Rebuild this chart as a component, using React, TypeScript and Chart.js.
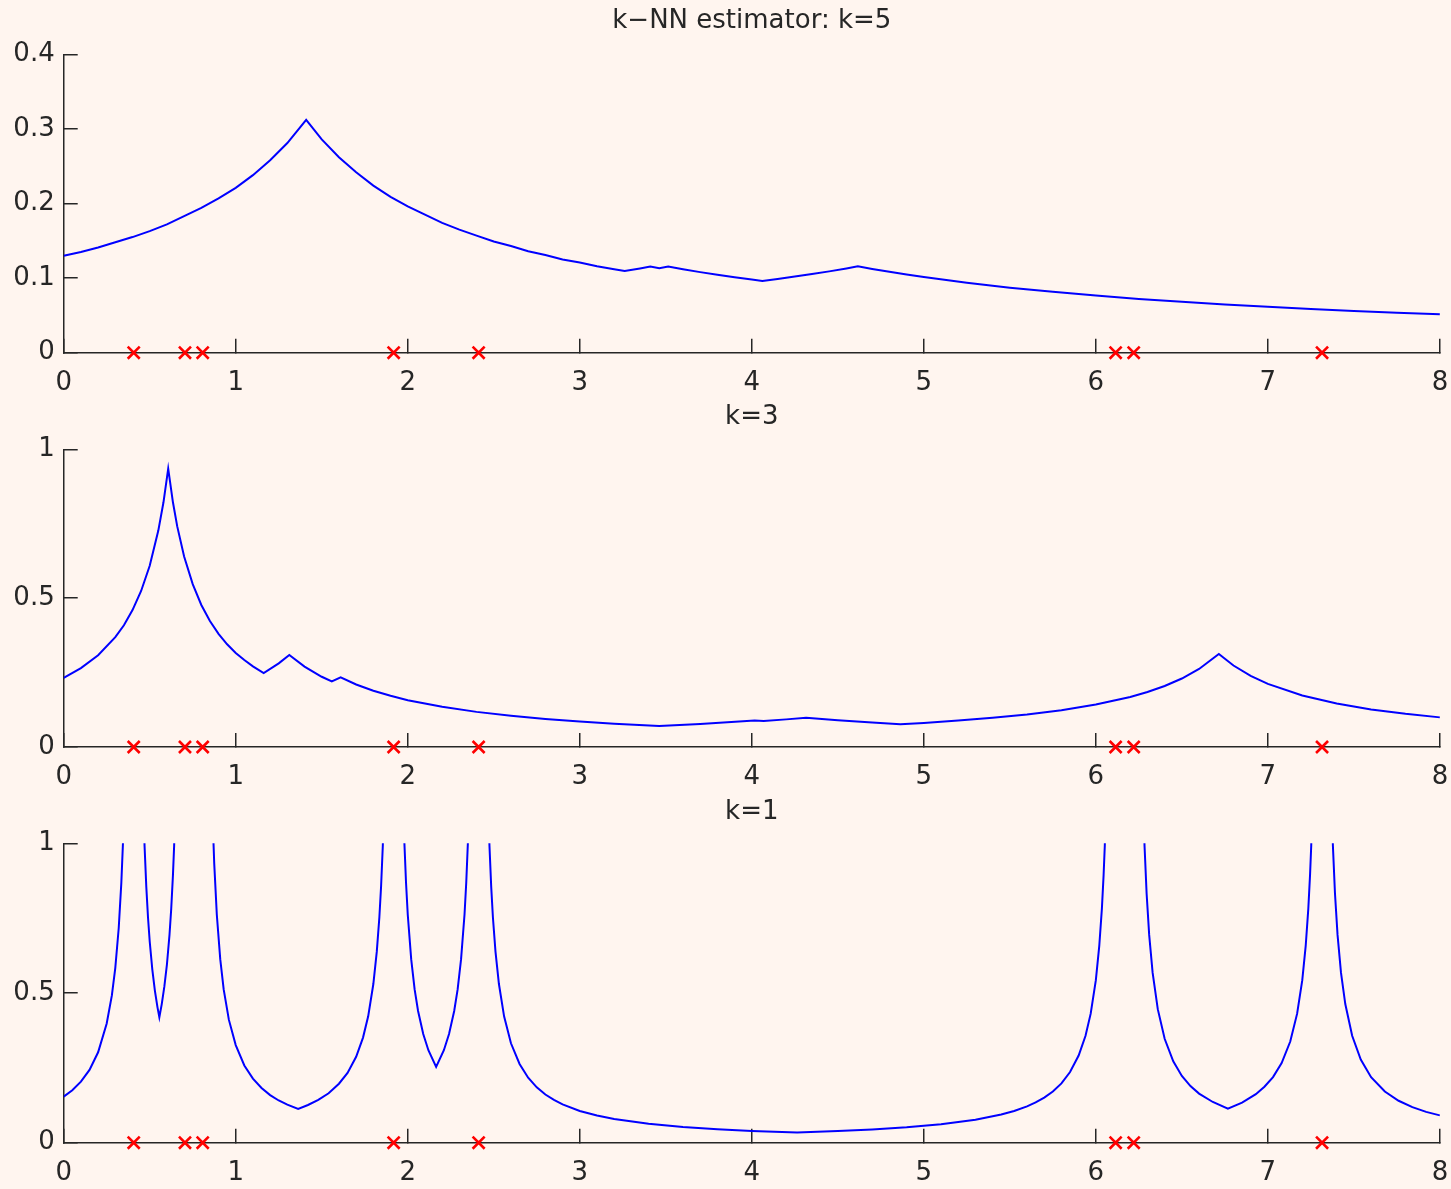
import React, { useEffect, useRef } from 'react';
import { Chart, registerables } from 'chart.js';

Chart.register(...registerables);

// ---- data ----
const sampleXs: number[] = [0.407, 0.705, 0.808, 1.918, 2.412, 6.115, 6.22, 7.315];

const xTickValues: number[] = [0, 1, 2, 3, 4, 5, 6, 7, 8];
const yTicksTop: number[] = [0, 0.1, 0.2, 0.3, 0.4];
const yTicksLower: number[] = [0, 0.5, 1];

const titles: string[] = ['k\u2212NN estimator: k=5', 'k=3', 'k=1'];

// k=5 curve: [x, density]
const curveK5: number[][] = [
  [0, 0.130], [0.1, 0.135], [0.2, 0.141], [0.3, 0.148], [0.4, 0.155], [0.5, 0.163], [0.6, 0.172],
  [0.7, 0.183], [0.8, 0.194], [0.9, 0.207], [1.0, 0.221], [1.1, 0.238], [1.2, 0.258], [1.3, 0.281],
  [1.4095, 0.312], [1.5, 0.286], [1.6, 0.262], [1.7, 0.242], [1.8, 0.224], [1.9, 0.209], [2.0, 0.196],
  [2.1, 0.185], [2.2, 0.174], [2.3, 0.165], [2.4, 0.157], [2.5, 0.149], [2.6, 0.143], [2.7, 0.136],
  [2.8, 0.131], [2.9, 0.125], [3.0, 0.121], [3.1, 0.116], [3.2, 0.112], [3.261, 0.1095], [3.35, 0.113],
  [3.41, 0.1155], [3.4625, 0.1133], [3.514, 0.1155], [3.6, 0.112], [3.7, 0.108], [3.8, 0.1045],
  [3.9, 0.101], [4.0, 0.098], [4.0615, 0.096], [4.15, 0.0987], [4.25, 0.102], [4.35, 0.1054],
  [4.45, 0.109], [4.55, 0.113], [4.6165, 0.1158], [4.7, 0.1123], [4.8, 0.1084], [4.9, 0.1048],
  [5.0, 0.1014], [5.25, 0.0938], [5.5, 0.0872], [5.75, 0.0816], [6.0, 0.0766], [6.25, 0.0721],
  [6.5, 0.0682], [6.75, 0.0647], [7.0, 0.0615], [7.25, 0.0586], [7.5, 0.056], [7.75, 0.0536], [8.0, 0.0514],
];

// k=3 curve
const curveK3: number[][] = [
  [0, 0.232], [0.1, 0.265], [0.2, 0.308], [0.3, 0.369], [0.35, 0.409], [0.4, 0.46], [0.45, 0.524],
  [0.5, 0.609], [0.55, 0.727], [0.58, 0.822], [0.6075, 0.935], [0.635, 0.822], [0.66, 0.741],
  [0.7, 0.64], [0.75, 0.547], [0.8, 0.477], [0.85, 0.423], [0.9, 0.38], [0.95, 0.345], [1.0, 0.316],
  [1.05, 0.292], [1.1, 0.271], [1.1625, 0.248], [1.25, 0.281], [1.3115, 0.309], [1.4, 0.27],
  [1.5, 0.236], [1.5585, 0.22], [1.61, 0.234], [1.7, 0.21], [1.8, 0.189], [1.9, 0.172], [2.0, 0.157],
  [2.2, 0.135], [2.4, 0.118], [2.6, 0.105], [2.8, 0.094], [3.0, 0.0855], [3.2, 0.0784], [3.4615, 0.0707],
  [3.7, 0.0776], [4.0165, 0.0894], [4.069, 0.0872], [4.2, 0.0928], [4.316, 0.0985], [4.5, 0.0898],
  [4.7, 0.082], [4.8635, 0.0765], [5.0, 0.081], [5.2, 0.0887], [5.4, 0.0979], [5.6, 0.1093],
  [5.8, 0.1238], [6.0, 0.1426], [6.2, 0.1682], [6.3, 0.1847], [6.4, 0.2049], [6.5, 0.2301],
  [6.6, 0.2622], [6.715, 0.3125], [6.8, 0.2737], [6.9, 0.2389], [7.0, 0.2119], [7.2, 0.1728],
  [7.4, 0.1459], [7.6, 0.1263], [7.8, 0.1113], [8.0, 0.0995],
];

// k=1 curve (values above 1 run off the top of the axes)
const curveK1: number[][] = [
  [0, 0.154], [0.05, 0.175], [0.1, 0.204], [0.15, 0.243], [0.2, 0.302], [0.25, 0.398], [0.28, 0.492],
  [0.3, 0.584], [0.32, 0.718], [0.335, 0.868], [0.345, 1.008], [0.36, 1.33], [0.387, 3.125],
  [0.427, 3.125], [0.452, 1.389], [0.47, 0.992], [0.48, 0.856], [0.49, 0.753], [0.5, 0.672],
  [0.515, 0.579], [0.53, 0.508], [0.545, 0.453], [0.556, 0.419], [0.57, 0.463], [0.585, 0.521],
  [0.6, 0.595], [0.615, 0.694], [0.625, 0.781], [0.635, 0.893], [0.642, 0.992], [0.66, 1.389],
  [0.685, 3.125], [0.725, 3.125], [0.7565, 1.214], [0.788, 3.125],
  [0.828, 3.125], [0.85, 1.488], [0.865, 1.096], [0.875, 0.933], [0.89, 0.762], [0.91, 0.613],
  [0.93, 0.512], [0.96, 0.411], [1.0, 0.326], [1.05, 0.258], [1.1, 0.214], [1.15, 0.183], [1.2, 0.159],
  [1.25, 0.141], [1.3, 0.127], [1.363, 0.113], [1.42, 0.126], [1.48, 0.143], [1.54, 0.165], [1.6, 0.197],
  [1.65, 0.233], [1.7, 0.287], [1.74, 0.351], [1.77, 0.422], [1.8, 0.53], [1.82, 0.638], [1.835, 0.753],
  [1.845, 0.856], [1.855, 0.992], [1.87, 1.302], [1.898, 3.125],
  [1.938, 3.125], [1.965, 1.33], [1.98, 1.008], [1.99, 0.868], [2.0, 0.762], [2.02, 0.613],
  [2.04, 0.512], [2.06, 0.44], [2.09, 0.363], [2.12, 0.309], [2.165, 0.253], [2.21, 0.309],
  [2.24, 0.363], [2.27, 0.44], [2.29, 0.512], [2.31, 0.613], [2.33, 0.762], [2.34, 0.868],
  [2.35, 1.008], [2.365, 1.33], [2.392, 3.125],
  [2.432, 3.125], [2.46, 1.302], [2.475, 0.992], [2.485, 0.856], [2.495, 0.753], [2.51, 0.638],
  [2.53, 0.53], [2.56, 0.422], [2.6, 0.332], [2.65, 0.263], [2.7, 0.217], [2.75, 0.185], [2.8, 0.161],
  [2.85, 0.143], [2.9, 0.128], [3.0, 0.106], [3.1, 0.0908], [3.2, 0.0793], [3.4, 0.0633], [3.6, 0.0526],
  [3.8, 0.045], [4.0, 0.0394], [4.2635, 0.0338], [4.5, 0.0387], [4.7, 0.0442], [4.9, 0.0514],
  [5.1, 0.0616], [5.3, 0.0767], [5.45, 0.094], [5.525, 0.106], [5.6, 0.1214], [5.65, 0.1344],
  [5.7, 0.1506], [5.75, 0.171], [5.8, 0.198], [5.85, 0.236], [5.9, 0.291], [5.94, 0.357],
  [5.97, 0.431], [6.0, 0.543], [6.02, 0.658], [6.035, 0.781], [6.045, 0.893], [6.052, 0.992],
  [6.07, 1.389], [6.095, 3.125],
  [6.135, 3.125], [6.1675, 1.19], [6.2, 3.125],
  [6.24, 3.125], [6.265, 1.389], [6.283, 0.992], [6.295, 0.833], [6.31, 0.694], [6.33, 0.568],
  [6.36, 0.446], [6.4, 0.347], [6.45, 0.272], [6.5, 0.223], [6.55, 0.189], [6.6, 0.164], [6.68, 0.136],
  [6.7675, 0.114], [6.85, 0.134], [6.93, 0.162], [6.98, 0.187], [7.03, 0.219], [7.08, 0.266],
  [7.13, 0.338], [7.17, 0.431], [7.2, 0.543], [7.22, 0.658], [7.235, 0.781], [7.245, 0.893],
  [7.252, 0.992], [7.27, 1.389], [7.295, 3.125],
  [7.335, 3.125], [7.36, 1.389], [7.378, 0.992], [7.39, 0.833], [7.405, 0.694], [7.425, 0.568],
  [7.45, 0.463], [7.49, 0.357], [7.54, 0.278], [7.6, 0.219], [7.68, 0.171], [7.76, 0.14],
  [7.84, 0.119], [7.92, 0.103], [8.0, 0.0912],
];

// ---- styling / layout ----
const BG = 'rgb(255,245,239)';
const AXIS = '#262626';
const TEXT = '#262626';
const FONT = 'DejaVu Sans';
const FONT_SIZE = 26;
const WIDTH = 1451;
const HEIGHT = 1189;

type PanelCfg = {
  title: string;
  curve: number[][];
  yTicks: number[];
  top: number;
  height: number;
  titleTop: number;
  titleBottom: number;
  xAxisH: number;
};

const panels: PanelCfg[] = [
  { title: titles[0], curve: curveK5, yTicks: yTicksTop, top: 0, height: 400, titleTop: 6.1, titleBottom: 17.0, xAxisH: 47.3 },
  { title: titles[1], curve: curveK3, yTicks: yTicksLower, top: 390, height: 400, titleTop: 11.3, titleBottom: 16.8, xAxisH: 43 },
  { title: titles[2], curve: curveK1, yTicks: yTicksLower, top: 785, height: 404, titleTop: 11.9, titleBottom: 15.2, xAxisH: 46.3 },
];

const fmt = (v: number | string) => String(Number(Number(v).toFixed(3)));

function Panel({ cfg }: { cfg: PanelCfg }) {
  const ref = useRef<HTMLCanvasElement>(null);
  useEffect(() => {
    const canvas = ref.current;
    if (!canvas) return;
    const yMin = cfg.yTicks[0];
    const yMax = cfg.yTicks[cfg.yTicks.length - 1];
    const yStep = cfg.yTicks[1] - cfg.yTicks[0];
    const font = { family: FONT, size: FONT_SIZE, weight: 'normal' as const };
    const gridOpts = {
      display: true,
      drawOnChartArea: false,
      drawTicks: true,
      tickLength: -14,
      color: AXIS,
      lineWidth: 1.5,
    };
    const borderOpts = { display: true, color: AXIS, width: 1.5 };
    const chart = new Chart(canvas, {
      type: 'scatter',
      data: {
        datasets: [
          {
            data: sampleXs.map((x) => ({ x, y: 0 })),
            pointStyle: 'crossRot',
            pointRadius: 8.5,
            pointHoverRadius: 8.5,
            pointBorderColor: '#ff0000',
            pointBackgroundColor: '#ff0000',
            pointBorderWidth: 2.6,
            showLine: false,
            clip: false as any,
            order: 0,
          },
          {
            data: cfg.curve.map(([x, y]) => ({ x, y })),
            showLine: true,
            borderColor: '#0000ff',
            borderWidth: 2,
            pointRadius: 0,
            pointHoverRadius: 0,
            tension: 0,
            order: 1,
          },
        ],
      },
      options: {
        animation: false,
        responsive: false,
        devicePixelRatio: 1,
        events: [],
        layout: { padding: { left: 0, right: 9.3, top: 0, bottom: 0 } },
        plugins: {
          legend: { display: false },
          tooltip: { enabled: false },
          title: {
            display: true,
            fullSize: false,
            text: cfg.title,
            color: TEXT,
            font,
            padding: { top: cfg.titleTop, bottom: cfg.titleBottom },
          },
        },
        scales: {
          x: {
            type: 'linear',
            min: xTickValues[0],
            max: xTickValues[xTickValues.length - 1],
            ticks: {
              stepSize: xTickValues[1] - xTickValues[0],
              color: TEXT,
              font,
              padding: 29,
              maxRotation: 0,
              autoSkip: false,
              callback: (v: number | string) => fmt(v),
            },
            grid: gridOpts,
            border: borderOpts,
            afterFit: (s: any) => {
              s.height = cfg.xAxisH;
              s.paddingLeft = 0;
              s.paddingRight = 0;
            },
          },
          y: {
            type: 'linear',
            min: yMin,
            max: yMax,
            ticks: {
              stepSize: yStep,
              color: TEXT,
              font,
              padding: 23,
              callback: (v: number | string) => fmt(v),
            },
            grid: gridOpts,
            border: borderOpts,
            afterFit: (s: any) => {
              s.width = 63.7;
              s.paddingTop = 0;
              s.paddingBottom = 0;
            },
          },
        },
      } as any,
    });
    return () => chart.destroy();
  }, [cfg]);
  return (
    <canvas
      ref={ref}
      width={WIDTH}
      height={cfg.height}
      style={{ position: 'absolute', left: 0, top: cfg.top, width: WIDTH, height: cfg.height }}
    />
  );
}

export default function App() {
  return (
    <div
      style={{
        position: 'absolute',
        left: 0,
        top: 0,
        width: WIDTH,
        height: HEIGHT,
        background: BG,
        overflow: 'hidden',
      }}
    >
      {panels.map((p, i) => (
        <Panel key={i} cfg={p} />
      ))}
    </div>
  );
}
